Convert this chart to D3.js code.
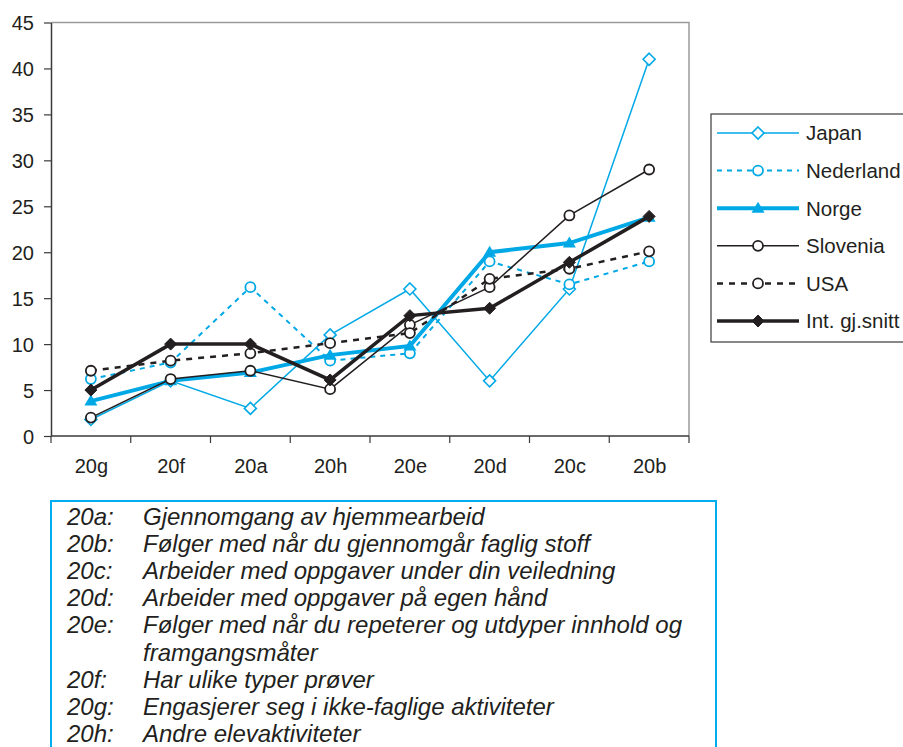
<!DOCTYPE html>
<html><head><meta charset="utf-8">
<script src="https://cdn.jsdelivr.net/npm/d3@7"></script>
<style>
body{margin:0;background:#fff}
svg{display:block}
text{font-family:"Liberation Sans",Arial,Helvetica,sans-serif;fill:#231f20}
</style>
</head><body>
<svg id="c" width="903" height="747"></svg>
<script>
// ---------- data ----------
const categories = ["20g","20f","20a","20h","20e","20d","20c","20b"];
const seriesNames = ["Japan","Nederland","Norge","Slovenia","USA","Int. gj.snitt"];
const japan     = [1.8, 6,   3,    11,   16,   6,    16,   41];
const nederland = [6.2, 8,   16.2, 8.2,  9,    19,   16.5, 19];
const norge     = [3.8, 6,   6.9,  8.8,  9.8,  20,   21,   23.8];
const slovenia  = [2,   6.2, 7.1,  5.1,  12.1, 16.2, 24,   29];
const usa       = [7.1, 8.2, 9,    10.1, 11.2, 17.1, 18.2, 20.1];
const intAvg    = [5,   10,  10,   6.1,  13.1, 13.9, 18.9, 23.9];
const yTicks = [0,5,10,15,20,25,30,35,40,45];
const noteCodes = ["20a:","20b:","20c:","20d:","20e:","","20f:","20g:","20h:"];
const noteTexts = [
  "Gjennomgang av hjemmearbeid",
  "Følger med når du gjennomgår faglig stoff",
  "Arbeider med oppgaver under din veiledning",
  "Arbeider med oppgaver på egen hånd",
  "Følger med når du repeterer og utdyper innhold og",
  "framgangsmåter",
  "Har ulike typer prøver",
  "Engasjerer seg i ikke-faglige aktiviteter",
  "Andre elevaktiviteter"
];
const seriesValues = [japan, nederland, norge, slovenia, usa, intAvg];

// ---------- styles ----------
const BLUE = "#00a9e6", BLACK = "#231f20";
const styles = [
  {color:BLUE,  width:1.5, dash:null,  marker:"diamond",  fill:"#fff", mstroke:1.6},
  {color:BLUE,  width:2,   dash:"5,5", marker:"circle",   fill:"#fff", mstroke:1.8},
  {color:BLUE,  width:4,   dash:null,  marker:"triangle", fill:BLUE,   mstroke:0},
  {color:BLACK, width:1.5, dash:null,  marker:"circle",   fill:"#fff", mstroke:1.8},
  {color:BLACK, width:2.5, dash:"6,6", marker:"circle",   fill:"#fff", mstroke:1.8},
  {color:BLACK, width:3.5, dash:null,  marker:"diamond",  fill:BLACK,  mstroke:1}
];
const circlePath = (()=>{const p=d3.path(); p.arc(0,0,5,0,2*Math.PI); return p.toString();})();
const markerPath = {
  diamond: "M0,-6L6,0L0,6L-6,0Z",
  circle: circlePath,
  triangle: "M0,-6.5L6.5,4.5L-6.5,4.5Z"
};

const svg = d3.select("#c");
const L = 51, R = 689, T = 22.5, B = 436;

const xBand = d3.scaleBand().domain(categories).range([L, R]);
const x = d3.scalePoint().domain(categories).range([L, R]).padding(0.5);
const y = d3.scaleLinear().domain([0,45]).range([B, T]);

// plot frame (top/right gray)
svg.append("path").attr("d", `M${L},${T}H${R}V${B}`)
  .attr("fill","none").attr("stroke","#9a9a9a").attr("stroke-width",1.5);

// y axis
const yAxis = svg.append("g").attr("transform",`translate(${L},0)`)
  .call(d3.axisLeft(y).tickValues(yTicks).tickSize(7).tickSizeOuter(0).tickPadding(10));
yAxis.select(".domain").attr("stroke","#3a3a3a").attr("stroke-width",1.5);
yAxis.selectAll(".tick line").attr("stroke","#3a3a3a").attr("stroke-width",1.2);
yAxis.selectAll("text").attr("font-size","20px").attr("fill","#231f20")
  .attr("font-family","Liberation Sans, Arial, sans-serif").attr("dy","0.36em");

// x axis: labels at category centres, ticks at band boundaries
const xAxis = svg.append("g").attr("transform",`translate(0,${B})`)
  .call(d3.axisBottom(x).tickSize(0).tickSizeOuter(0).tickPadding(0));
xAxis.select(".domain").remove();
xAxis.selectAll("text").attr("font-size","20px").attr("fill","#231f20")
  .attr("font-family","Liberation Sans, Arial, sans-serif").attr("dy","1.85em");
const bounds = categories.map(c => xBand(c)).concat([xBand(categories[categories.length-1]) + xBand.bandwidth()]);
svg.append("line").attr("x1",L).attr("x2",R).attr("y1",B).attr("y2",B)
  .attr("stroke","#3a3a3a").attr("stroke-width",1.5);
svg.selectAll(".xt").data(bounds).enter().append("line")
  .attr("x1",d=>d).attr("x2",d=>d).attr("y1",B).attr("y2",B+7)
  .attr("stroke","#3a3a3a").attr("stroke-width",1.2);

// series
const line = d3.line().x((d,i)=>x(categories[i])).y(d=>y(d));
seriesValues.forEach((vals, si) => {
  const s = styles[si];
  svg.append("path").attr("d", line(vals)).attr("fill","none")
    .attr("stroke", s.color).attr("stroke-width", s.width)
    .attr("stroke-dasharray", s.dash).attr("stroke-linejoin","miter");
  svg.append("g").selectAll("path").data(vals).enter().append("path")
    .attr("d", markerPath[s.marker])
    .attr("transform",(d,i)=>`translate(${x(categories[i])},${y(d)})`)
    .attr("fill", s.fill).attr("stroke", s.mstroke ? s.color : "none")
    .attr("stroke-width", s.mstroke);
});

// legend
const lg = svg.append("g");
lg.append("rect").attr("x",711).attr("y",114).attr("width",220).attr("height",228)
  .attr("fill","#fff").attr("stroke","#3a3a3a").attr("stroke-width",1.2);
seriesNames.forEach((name, i) => {
  const s = styles[i];
  const yy = 133 + i*37.6;
  lg.append("line").attr("x1",717).attr("x2",799).attr("y1",yy).attr("y2",yy)
    .attr("stroke", s.color).attr("stroke-width", s.width).attr("stroke-dasharray", s.dash);
  lg.append("path").attr("d", markerPath[s.marker])
    .attr("transform",`translate(758,${yy})`)
    .attr("fill", s.fill).attr("stroke", s.mstroke ? s.color : "none").attr("stroke-width", s.mstroke);
  lg.append("text").attr("x",806).attr("y",yy).attr("dy","0.36em")
    .attr("font-size","20.5px").text(name);
});

// notes box
svg.append("rect").attr("x",51).attr("y",501).attr("width",665).attr("height",270)
  .attr("fill","none").attr("stroke","#00aeef").attr("stroke-width",2);
noteCodes.forEach((c,i) => {
  const yy = 524.5 + i*27.2;
  svg.append("text").attr("x",67).attr("y",yy).attr("font-size","24px")
    .attr("font-style","italic").text(c);
  svg.append("text").attr("x",143).attr("y",yy).attr("font-size","24px")
    .attr("font-style","italic").text(noteTexts[i]);
});
</script>
</body></html>
